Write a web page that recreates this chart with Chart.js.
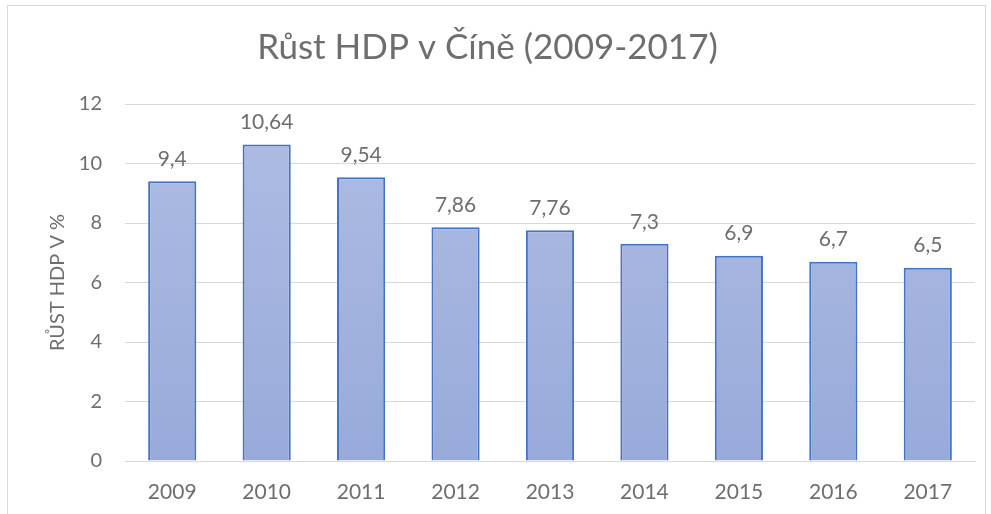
<!DOCTYPE html>
<html>
<head>
<meta charset="utf-8">
<script src="https://cdn.jsdelivr.net/npm/chart.js@4/dist/chart.umd.min.js"></script>
<style>
html,body{margin:0;padding:0;background:#fff;}
#wrap{position:relative;width:991px;height:514px;}
#frame{position:absolute;left:7px;top:5px;width:979px;height:520px;border:1px solid #d9d9d9;box-sizing:border-box;pointer-events:none;}
canvas{position:absolute;left:0;top:0;}
</style>
</head>
<body>
<div id="wrap">
<canvas id="c" width="991" height="514"></canvas>
<div id="frame"></div>
</div>
<script>
const categories = ['2009','2010','2011','2012','2013','2014','2015','2016','2017'];
const growth = [9.4, 10.64, 9.54, 7.86, 7.76, 7.3, 6.9, 6.7, 6.5];
const yTicks = [0, 2, 4, 6, 8, 10, 12];
const titleText = 'Růst HDP v Číně (2009-2017)';
const yTitle = 'RŮST HDP V %';

const FONT = 'Lato, "Open Sans", sans-serif';
const GRAY = '#6e6e6e';

const labelPlugin = {
  id: 'valueLabels',
  afterDatasetsDraw(chart) {
    const ctx = chart.ctx;
    const meta = chart.getDatasetMeta(0);
    ctx.save();
    ctx.font = '21px ' + FONT;
    ctx.fillStyle = GRAY;
    ctx.textAlign = 'center';
    ctx.textBaseline = 'middle';
    meta.data.forEach((bar, i) => {
      const txt = String(growth[i]).replace('.', ',');
      ctx.fillText(txt, bar.x, bar.y - 22);
    });
    ctx.restore();
  }
};

new Chart(document.getElementById('c'), {
  type: 'bar',
  data: {
    labels: categories,
    datasets: [{
      data: growth,
      backgroundColor(context) {
        const ca = context.chart.chartArea;
        if (!ca) return '#a3b4de';
        const g = context.chart.ctx.createLinearGradient(0, ca.top, 0, ca.bottom);
        g.addColorStop(0, '#afbde3');
        g.addColorStop(1, '#97aad9');
        return g;
      },
      borderColor: '#4472c4',
      borderWidth: 2,
      borderSkipped: 'start',
      barPercentage: 0.51,
      categoryPercentage: 1.0
    }]
  },
  options: {
    responsive: false,
    animation: false,
    devicePixelRatio: 1,
    layout: { padding: { left: 0, right: 16, top: 0, bottom: 0 } },
    plugins: {
      legend: { display: false },
      tooltip: { enabled: false },
      title: {
        display: true,
        text: titleText,
        color: GRAY,
        font: { family: FONT, size: 35, weight: 'normal' },
        padding: { top: 27, bottom: 35 }
      }
    },
    scales: {
      x: {
        grid: { display: false, drawTicks: false },
        border: { display: true, color: '#d9d9d9', width: 1 },
        ticks: { color: GRAY, font: { family: FONT, size: 21 }, padding: 19 },
        afterFit(s) { s.height = 53; }
      },
      y: {
        min: 0, max: 12,
        afterBuildTicks(s) { s.ticks = yTicks.map(v => ({ value: v })); },
        grid: { color: '#d9d9d9', lineWidth: 1, drawTicks: false },
        border: { display: false },
        ticks: { color: GRAY, font: { family: FONT, size: 20 }, padding: 23 },
        title: {
          display: true,
          text: yTitle,
          color: GRAY,
          font: { family: FONT, size: 20, weight: 'normal' },
          padding: { top: 46, bottom: 0 }
        },
        afterFit(s) { s.width = 125; }
      }
    }
  },
  plugins: [labelPlugin]
});
</script>
</body>
</html>
